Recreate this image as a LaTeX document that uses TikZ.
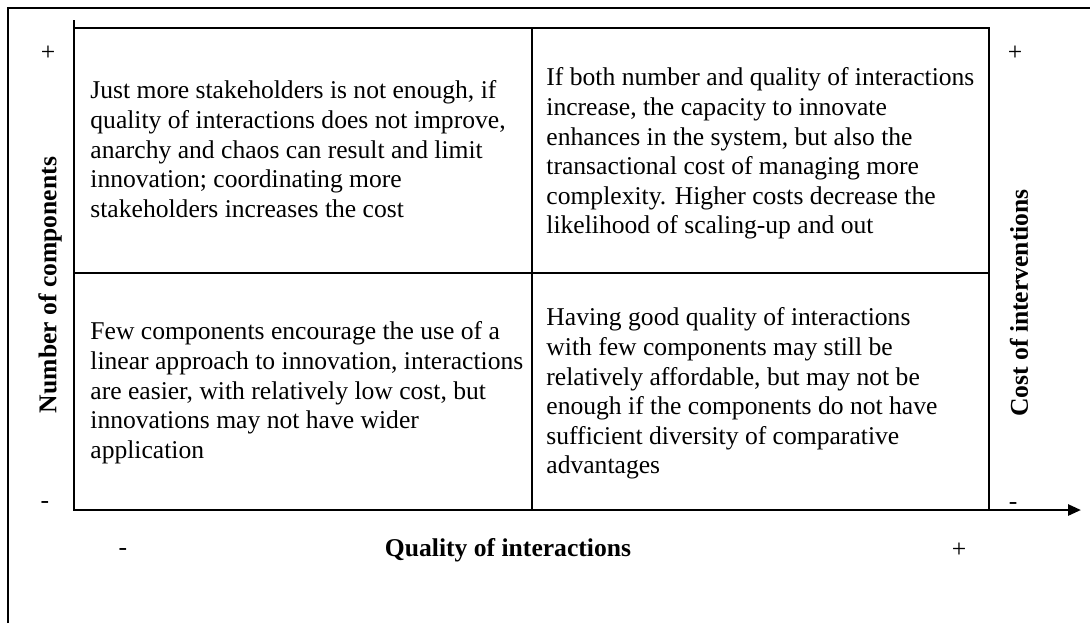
\documentclass[tikz,border=0pt]{standalone}
\usepackage{fontspec}
\setmainfont{Liberation Serif}
\usetikzlibrary{arrows.meta,positioning}
\tikzset{every node/.style={font=\fontsize{12.8}{14.8}\selectfont,inner sep=0pt},
 cell/.style={anchor=north west,align=left},
 sign/.style={anchor=center},
 axislabel/.style={font=\fontsize{12.8}{14.8}\selectfont\bfseries},
 frame/.style={line width=1.2pt}}

\begin{document}
\begin{tikzpicture}[x=0.5pt,y=-0.5pt]
\useasboundingbox (0,0) rectangle (1090,623);
% outer frame, cut at the right and bottom
\draw[frame] (8,623)--(8,8)--(1090,8);
% axes
\coordinate (ytop) at (74,20);
\coordinate (origin) at (74,510);
\coordinate (xend) at (1081,510);
\draw[line width=1.3pt,-{Triangle[length=6.5pt,width=5.5pt]}] (ytop)--(origin)--(xend);
% the four quadrants
\draw[line width=1pt] (74,28) rectangle (989,510);
\draw[line width=1pt] (532,28)--(532,510) (74,273)--(989,273);
\node[cell] (tl) at (90,80.5) {Just more stakeholders is not enough, if\\
 quality of interactions does not improve,\\ anarchy and chaos can result and limit\\
 innovation; coordinating more\\ stakeholders increases the cost};
\node[cell] (tr) at (546,67.5) {If both number and quality of interactions\\
 increase, the capacity to innovate\\ enhances in the system, but also the\\
 transactional cost of managing more\\ complexity. Higher costs decrease the\\
 likelihood of scaling-up and out};
\node[cell] (bl) at (90,321.5) {Few components encourage the use of a\\
 linear approach to innovation, interactions\\ are easier, with relatively low cost, but\\
 innovations may not have wider\\ application};
\node[cell] (br) at (546,307.5) {Having good quality of interactions\\
 with few components may still be\\ relatively affordable, but may not be\\
 enough if the components do not have\\ sufficient diversity of comparative\\ advantages};
% axis ends
\node[sign] (nplus) at (48,53) {+};
\node[sign] (nminus) at (45,505) {-};
\node[sign] (cplus) at (1015,53) {+};
\node[sign] (cminus) at (1013,506) {-};
\node[sign] (qminus) at (123,552) {-};
\node[sign] (qplus) at (959,550) {+};
% axis titles
\node[axislabel] (quality) at (508,550) {Quality of interactions};
\node[axislabel,rotate=90] (number) at (50,285) {Number of components};
\node[axislabel,rotate=90] (cost) at (1019,303) {Cost of interventions};
\end{tikzpicture}
\end{document}
